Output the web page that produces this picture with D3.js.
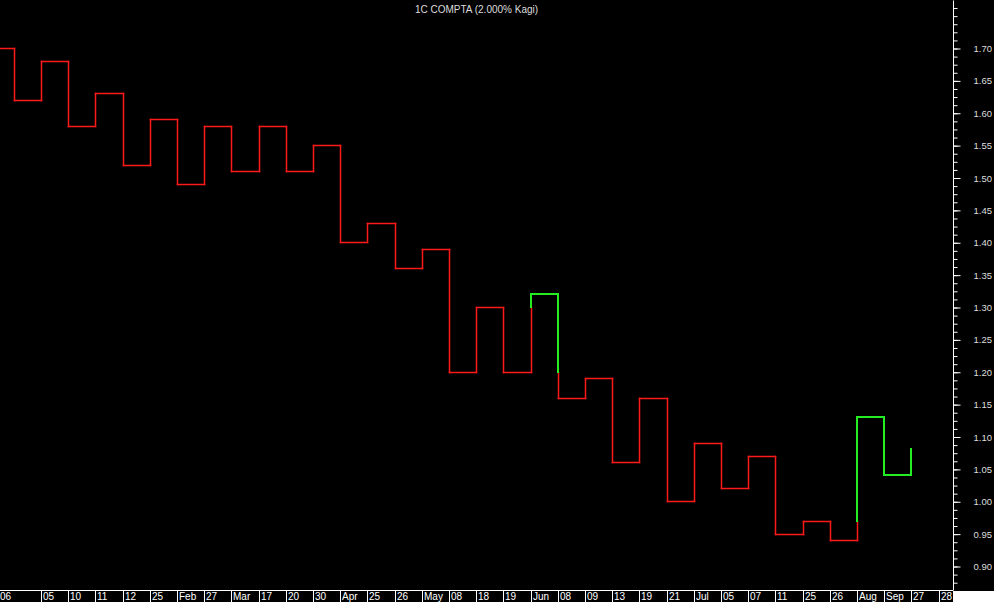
<!DOCTYPE html>
<html>
<head>
<meta charset="utf-8">
<script src="https://cdn.jsdelivr.net/npm/d3@7"></script>
<style>
  html, body { margin: 0; padding: 0; background: #000; }
  svg { display: block; }
  text { font-family: "Liberation Sans", Arial, sans-serif; }
</style>
</head>
<body>
<svg id="chart" width="994" height="602"></svg>
<script>
// ---- data ----
const title = "1C COMPTA (2.000% Kagi)";
const kagiLevels = [1.70, 1.62, 1.68, 1.58, 1.63, 1.52, 1.59, 1.49, 1.58, 1.51, 1.58, 1.51,
  1.55, 1.40, 1.43, 1.36, 1.39, 1.20, 1.30, 1.20, 1.32, 1.16, 1.19, 1.06, 1.16, 1.00,
  1.09, 1.02, 1.07, 0.95, 0.97, 0.94, 1.13, 1.04, 1.08];
const dateLabels = ["06","05","10","11","12","25","Feb","27","Mar","17","20","30","Apr",
  "25","26","May","08","18","19","Jun","08","09","13","19","21","Jul","05","07","11",
  "25","26","Aug","Sep","27","28"];
const yTickMin = 0.90, yTickMax = 1.70;

// ---- layout ----
const W = 994, H = 602;
const axisX = 953, axisBottom = 590;
const svg = d3.select("#chart");
svg.append("rect").attr("width", W).attr("height", H).attr("fill", "#000");

const x = d3.scaleLinear().domain([0, dateLabels.length - 1]).range([13.8, 938.6]);
const y = d3.scaleLinear().domain([yTickMin, yTickMax]).range([566, 48]);

// ---- kagi segments ----
const segs = [];
let thick = false;
segs.push({x1: x(-1), y1: kagiLevels[0], x2: x(0), y2: kagiLevels[0], thick});
for (let i = 0; i < kagiLevels.length - 1; i++) {
  const a = kagiLevels[i], b = kagiLevels[i + 1];
  const prev = i >= 1 ? kagiLevels[i - 1] : null;
  if (!thick && b > a && prev !== null && b > prev) {
    segs.push({x1: x(i), y1: a, x2: x(i), y2: prev, thick: false});
    segs.push({x1: x(i), y1: prev, x2: x(i), y2: b, thick: true});
    thick = true;
  } else if (thick && b < a && prev !== null && b < prev) {
    segs.push({x1: x(i), y1: a, x2: x(i), y2: prev, thick: true});
    segs.push({x1: x(i), y1: prev, x2: x(i), y2: b, thick: false});
    thick = false;
  } else {
    segs.push({x1: x(i), y1: a, x2: x(i), y2: b, thick});
  }
  if (i + 1 < kagiLevels.length - 1) {
    segs.push({x1: x(i), y1: b, x2: x(i + 1), y2: b, thick});
  }
}

const plot = svg.append("g");
plot.selectAll("line.thin").data(segs.filter(d => !d.thick)).join("line")
  .attr("class", "thin")
  .attr("x1", d => Math.round(d.x1) + 0.5).attr("x2", d => Math.round(d.x2) + 0.5)
  .attr("y1", d => Math.round(y(d.y1)) + 0.5).attr("y2", d => Math.round(y(d.y2)) + 0.5)
  .attr("stroke", "#ff1a1a").attr("stroke-width", 1.5).attr("stroke-linecap", "square");
plot.selectAll("line.thick").data(segs.filter(d => d.thick)).join("line")
  .attr("class", "thick")
  .attr("x1", d => Math.round(d.x1)).attr("x2", d => Math.round(d.x2))
  .attr("y1", d => Math.round(y(d.y1))).attr("y2", d => Math.round(y(d.y2)))
  .attr("stroke", "#22ee22").attr("stroke-width", 2).attr("stroke-linecap", "square");

// ---- title ----
svg.append("text").attr("x", axisX / 2).attr("y", 13).attr("text-anchor", "middle")
  .attr("fill", "#dddddd").attr("font-size", "10px").text(title);

// ---- right axis ----
const minorVals = d3.range(68, 146).map(k => k * 0.0125)
  .filter(v => y(v) >= 0 && y(v) <= axisBottom);
const majorVals = d3.range(18, 35).map(k => k * 0.05);
const ax = svg.append("g").attr("transform", `translate(${axisX + 0.5},0.5)`);
ax.append("line").attr("x1", 0).attr("x2", 0).attr("y1", 0).attr("y2", axisBottom)
  .attr("stroke", "#fff");
const minorAxis = ax.append("g").call(d3.axisRight(y).tickValues(minorVals).tickSize(4).tickFormat(""));
minorAxis.select(".domain").remove();
minorAxis.selectAll("line").attr("stroke", "#fff");
const majorAxis = ax.append("g").call(d3.axisRight(y).tickValues(majorVals).tickSize(7)
  .tickPadding(13).tickFormat(d3.format(".2f")));
majorAxis.select(".domain").remove();
majorAxis.selectAll("line").attr("stroke", "#fff");
majorAxis.selectAll("text").attr("fill", "#dddddd").attr("font-size", "9.5px")
  .attr("font-family", "Liberation Sans, Arial, sans-serif");

// ---- bottom date row ----
svg.append("rect").attr("x", axisX).attr("y", axisBottom + 1).attr("width", W - axisX)
  .attr("height", H - axisBottom).attr("fill", "#fff");
svg.append("line").attr("x1", 0).attr("x2", axisX).attr("y1", axisBottom + 0.5).attr("y2", axisBottom + 0.5)
  .attr("stroke", "#fff");
const bounds = dateLabels.map((d, i) => i === 0 ? 0 : x(i));
svg.selectAll("line.sep").data(bounds.slice(1)).join("line").attr("class", "sep")
  .attr("x1", d => Math.round(d) + 0.5).attr("x2", d => Math.round(d) + 0.5)
  .attr("y1", axisBottom).attr("y2", H).attr("stroke", "#fff");
svg.selectAll("text.date").data(dateLabels).join("text").attr("class", "date")
  .attr("x", (d, i) => Math.round(bounds[i]) + (i === 0 ? 0 : 2)).attr("y", 600)
  .attr("fill", "#fff").attr("font-size", "10px").text(d => d);
</script>
</body>
</html>
